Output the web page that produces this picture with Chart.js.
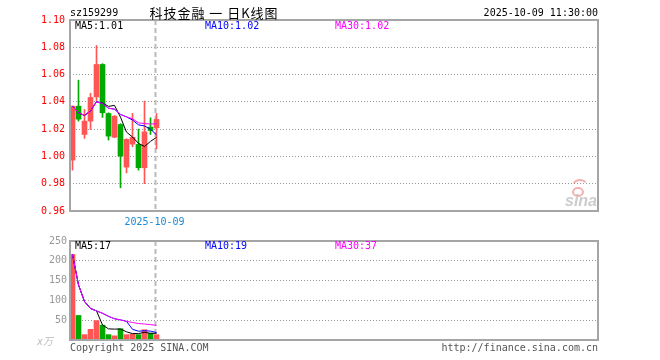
<!DOCTYPE html>
<html><head><meta charset="utf-8">
<script src="https://cdn.jsdelivr.net/npm/chart.js@4.4.1/dist/chart.umd.min.js"></script>
<style>
html,body{margin:0;padding:0;background:#fff;}
#wrap{position:relative;width:660px;height:360px;}
canvas{position:absolute;left:0;top:0;}
</style></head><body>
<div id="wrap"><canvas id="k" width="660" height="360"></canvas><canvas id="v" width="660" height="360"></canvas></div>
<script>
// ---- data ----
const symbol = 'sz159299';
const titleText = '科技金融 一 日K线图';
const stamp = '2025-10-09 11:30:00';
const dates = ['2025-09-11','2025-09-12','2025-09-15','2025-09-16','2025-09-17','2025-09-18','2025-09-19',
               '2025-09-22','2025-09-23','2025-09-24','2025-09-25','2025-09-26','2025-09-29','2025-09-30','2025-10-09'];
const opens  = [0.9973,1.0368,1.0161,1.0259,1.0436,1.0674,1.0315,1.0141,1.0234,0.9922,1.0090,1.0088,0.9917,1.0215,1.0210];
const highs  = [1.0370,1.0559,1.0344,1.0462,1.0813,1.0680,1.0320,1.0300,1.0240,1.0130,1.0315,1.0200,1.0405,1.0283,1.0315];
const lows   = [0.9900,1.0259,1.0132,1.0198,1.0410,1.0286,1.0120,1.0137,0.9770,0.9880,1.0070,0.9900,0.9800,1.0161,1.0055];
const closes = [1.0368,1.0273,1.0259,1.0432,1.0674,1.0320,1.0149,1.0295,1.0002,1.0125,1.0140,0.9917,1.0180,1.0190,1.0271];
const volumes = [216,62,13.5,27,49,37.5,13.5,10.5,28.5,13.5,15,13.5,26,17,13.5];
const priceTicks = [0.96,0.98,1.00,1.02,1.04,1.06,1.08,1.10];
const volTicks = [0,50,100,150,200,250];
const slots = 88;

// ---- helpers ----
const idx = dates.map((d,i)=>i);
function ma(arr,n){return arr.map((_,i)=>{const s=Math.max(0,i-n+1);let t=0;for(let j=s;j<=i;j++)t+=arr[j];return t/(i-s+1);});}
const RED='#ff5555', GREEN='#00a800', BLUE='#0000ff', MAG='#ff00ff';
const colors = idx.map(i => closes[i]>=opens[i] ? RED : GREEN);
const pMA5=ma(closes,5), pMA10=ma(closes,10), pMA30=ma(closes,30);
const vMA5=ma(volumes,5), vMA10=ma(volumes,10), vMA30=ma(volumes,30);
// first trading day of a new month -> date marker
let markIdx = -1;
for(let i=1;i<dates.length;i++){ if(dates[i].slice(0,7)!==dates[i-1].slice(0,7)) markIdx=i; }

Chart.defaults.font.family = "'DejaVu Sans Mono', monospace";
Chart.defaults.font.size = 10;
const MONO = "10px 'DejaVu Sans Mono', monospace";
const xMin = -0.4167;

function txt(ctx,s,x,y,color,align,font,spacing){
  ctx.save(); ctx.font=font||MONO; ctx.fillStyle=color; ctx.textAlign=align||'left';
  if(spacing) ctx.letterSpacing=spacing;
  ctx.textBaseline='middle'; ctx.fillText(s,x,y); ctx.restore();
}
function lineDs(vals,color,ord){
  return {type:'line',data:idx.map(i=>({x:i,y:vals[i]})),borderColor:color,borderWidth:1,
          pointRadius:0,tension:0,fill:false,order:ord};
}
function markX(chart){
  const xs=chart.scales.x;
  return Math.round(xs.getPixelForValue(markIdx))-2.5+1;
}
function framePlugin(isTop){
  return {
    id:'frame'+(isTop?'K':'V'),
    beforeDatasetsDraw(chart){
      const {ctx,chartArea:a}=chart;
      if(markIdx>=0){
        const x=markX(chart);
        ctx.save(); ctx.strokeStyle='#bbbbbb'; ctx.lineWidth=2; ctx.setLineDash([5,3]);
        ctx.beginPath(); ctx.moveTo(x,a.top); ctx.lineTo(x,a.bottom); ctx.stroke(); ctx.restore();
      }
    },
    afterDraw(chart){
      const {ctx,chartArea:a}=chart;
      ctx.save(); ctx.strokeStyle='#a5a5a5'; ctx.lineWidth=2;
      ctx.strokeRect(a.left,a.top,a.right-a.left,a.bottom-a.top); ctx.restore();
      const last=dates.length-1;
      if(isTop){
        txt(ctx,symbol,70,13,'#000');
        txt(ctx,titleText,214,13,'#000','center',"13px 'Noto Sans CJK SC', sans-serif",'1px');
        txt(ctx,stamp,598,13,'#000','right');
        txt(ctx,'MA5:'+pMA5[last].toFixed(2),75,26,'#000');
        txt(ctx,'MA10:'+pMA10[last].toFixed(2),205,26,BLUE);
        txt(ctx,'MA30:'+pMA30[last].toFixed(2),335,26,MAG);
        if(markIdx>=0) txt(ctx,dates[markIdx],markX(chart)-1,222,'#1a8ad8','center');
        // watermark
        ctx.save();
        ctx.strokeStyle='rgba(235,110,110,0.55)'; ctx.lineWidth=2;
        ctx.beginPath(); ctx.ellipse(578,192,5,4,0,0,Math.PI*2); ctx.stroke();
        ctx.beginPath(); ctx.arc(580,188,8,Math.PI*1.2,Math.PI*1.75); ctx.stroke();
        ctx.restore();
        txt(ctx,'sina',597,202,'rgba(170,170,170,0.6)','right',"italic bold 16px 'Liberation Sans', sans-serif");
      } else {
        txt(ctx,'MA5:'+vMA5[last].toFixed(0),75,246,'#000');
        txt(ctx,'MA10:'+vMA10[last].toFixed(0),205,246,BLUE);
        txt(ctx,'MA30:'+vMA30[last].toFixed(0),335,246,MAG);
        txt(ctx,'x万',53,342,'#bbbbbb','right',"italic 10px 'DejaVu Sans Mono', 'Noto Sans CJK SC', monospace");
        txt(ctx,'Copyright 2025 SINA.COM',70,348,'#555');
        txt(ctx,'http://finance.sina.com.cn',598,348,'#555','right');
      }
    }
  };
}
function gridColor(c){ return (c.index===0||c.index===c.chart.scales.y.ticks.length-1)?'rgba(0,0,0,0)':'#999999'; }

const common = {
  responsive:false, animation:false, devicePixelRatio:1,
  plugins:{legend:{display:false},tooltip:{enabled:false}},
};

// ---- price chart ----
new Chart(document.getElementById('k'),{
  type:'bar',
  data:{datasets:[
    {data:idx.map(i=>({x:i,y:[lows[i],highs[i]]})),backgroundColor:colors,barThickness:1,grouped:false,order:5},
    {data:idx.map(i=>({x:i,y:[opens[i],closes[i]]})),backgroundColor:colors,barThickness:5,grouped:false,minBarLength:1,order:4},
    lineDs(pMA5,'#000',3), lineDs(pMA10,BLUE,2), lineDs(pMA30,MAG,1)
  ]},
  options:Object.assign({},common,{
    layout:{padding:{left:0,right:62,top:20,bottom:149}},
    scales:{
      x:{type:'linear',min:xMin,max:xMin+slots,offset:false,display:false},
      y:{min:priceTicks[0],max:priceTicks[priceTicks.length-1],
         afterBuildTicks:s=>{s.ticks=priceTicks.map(v=>({value:v}));},
         afterFit:s=>{s.width=70;},
         ticks:{color:'#ff0000',padding:5,callback:v=>Number(v).toFixed(2),font:{size:10}},
         grid:{color:gridColor,drawTicks:false,lineWidth:1},
         border:{display:false,dash:[1,2]}}
    }
  }),
  plugins:[framePlugin(true)]
});

// ---- volume chart ----
new Chart(document.getElementById('v'),{
  type:'bar',
  data:{datasets:[
    {data:idx.map(i=>({x:i,y:volumes[i]})),backgroundColor:colors,barThickness:5,grouped:false,order:4},
    lineDs(vMA5,'#000',3), lineDs(vMA10,BLUE,2), lineDs(vMA30,MAG,1)
  ]},
  options:Object.assign({},common,{
    layout:{padding:{left:0,right:62,top:241,bottom:20}},
    scales:{
      x:{type:'linear',min:xMin,max:xMin+slots,offset:false,display:false},
      y:{min:volTicks[0],max:volTicks[volTicks.length-1],
         afterBuildTicks:s=>{s.ticks=volTicks.map(v=>({value:v}));},
         afterFit:s=>{s.width=70;},
         ticks:{color:'#999999',padding:3,callback:v=>v===0?'':String(v),font:{size:10}},
         grid:{color:gridColor,drawTicks:false,lineWidth:1},
         border:{display:false,dash:[1,2]}}
    }
  }),
  plugins:[framePlugin(false)]
});
</script>
</body></html>
